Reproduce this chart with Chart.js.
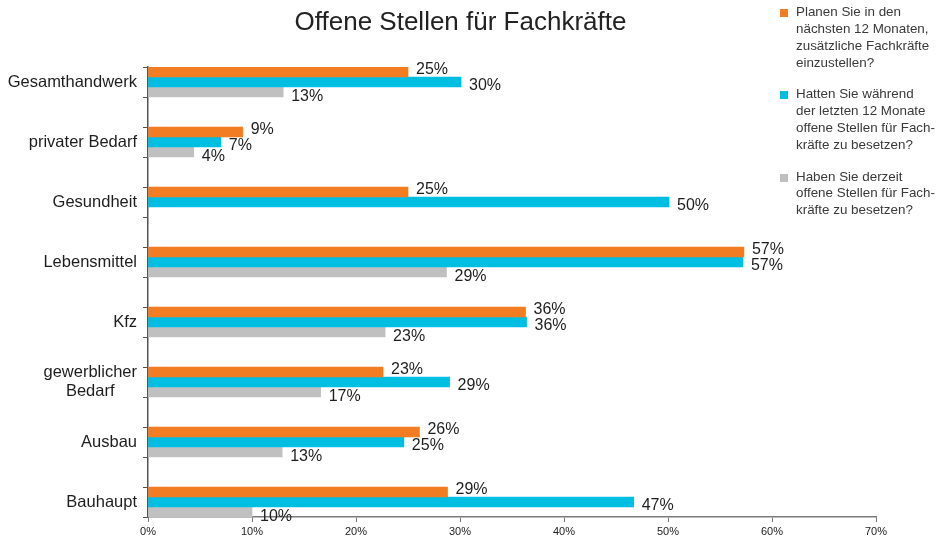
<!DOCTYPE html>
<html>
<head>
<meta charset="utf-8">
<script src="https://cdn.jsdelivr.net/npm/chart.js@4.4.1/dist/chart.umd.min.js"></script>
<style>
html,body{margin:0;padding:0;background:#fff;}
#wrap{position:relative;width:943px;height:537px;font-family:"Liberation Sans",Arial,sans-serif;overflow:hidden;}
#c{position:absolute;left:0;top:0;}
#title{position:absolute;left:0;width:921px;top:6px;text-align:center;font-size:26px;line-height:30px;color:#222;white-space:nowrap;}
.lg{position:absolute;left:780px;width:160px;}
.lg .sq{position:absolute;left:0;width:8px;height:8px;}
.lg .tx{position:absolute;left:16px;font-size:13.4px;line-height:16.8px;color:#3a3a3a;white-space:nowrap;}
</style>
</head>
<body>
<div id="wrap">
  <canvas id="c" width="943" height="537"></canvas>
  <div id="title"></div>
  <div id="legend"></div>
</div>
<script>
// ---- data ----
const chartTitle = 'Offene Stellen für Fachkräfte';
const categories = ['Gesamthandwerk', 'privater Bedarf', 'Gesundheit', 'Lebensmittel', 'Kfz', ['gewerblicher', 'Bedarf'], 'Ausbau', 'Bauhaupt'];
const planenValues  = [25.0, 9.1, 25.0, 57.3, 36.3, 22.6, 26.1, 28.8];
const hattenValues  = [30.1, 7.0, 50.1, 57.2, 36.4, 29.0, 24.6, 46.7];
const derzeitValues = [13.0, 4.4, null, 28.7, 22.8, 16.6, 12.9, 10.0];
const xTickValues = [0, 10, 20, 30, 40, 50, 60, 70];
const planenName  = ['Planen Sie in den', 'nächsten 12 Monaten,', 'zusätzliche Fachkräfte', 'einzustellen?'];
const hattenName  = ['Hatten Sie während', 'der letzten 12 Monate', 'offene Stellen für Fach-', 'kräfte zu besetzen?'];
const derzeitName = ['Haben Sie derzeit', 'offene Stellen für Fach-', 'kräfte zu besetzen?'];

// ---- styles ----
const seriesColors = ['#F17C22', '#00BEE1', '#C0C0C0'];
const labelShift = [-2, 4, 5];
const legendTops = [4.3, 86.3, 168.7];
const FONT = '"Liberation Sans", Arial, sans-serif';

document.getElementById('title').textContent = chartTitle;

const seriesNames = [planenName, hattenName, derzeitName];
const legendEl = document.getElementById('legend');
seriesNames.forEach((lines, k) => {
  const item = document.createElement('div');
  item.className = 'lg';
  item.style.top = legendTops[k] + 'px';
  const sq = document.createElement('span');
  sq.className = 'sq';
  sq.style.background = seriesColors[k];
  sq.style.top = '5px';
  item.appendChild(sq);
  const tx = document.createElement('div');
  tx.className = 'tx';
  lines.forEach((l, i) => {
    if (i) tx.appendChild(document.createElement('br'));
    tx.appendChild(document.createTextNode(l));
  });
  item.appendChild(tx);
  legendEl.appendChild(item);
});

const toPoints = vals => vals.map((v, i) => ({ x: v, y: i }));
const yTickValues = [];
categories.forEach((c, i) => { yTickValues.push(i - 0.25, i + 0.25); });

const valueLabels = {
  id: 'valueLabels',
  afterDatasetsDraw(chart) {
    const ctx = chart.ctx;
    ctx.save();
    ctx.font = '16px ' + FONT;
    ctx.fillStyle = '#1e1e1e';
    ctx.textAlign = 'left';
    ctx.textBaseline = 'middle';
    chart.data.datasets.forEach((ds, di) => {
      const meta = chart.getDatasetMeta(di);
      meta.data.forEach((el, i) => {
        const v = ds.data[i].x;
        if (v === null || v === undefined) return;
        ctx.fillText(Math.round(v) + '%', el.x + 8, el.y + labelShift[di]);
      });
    });
    ctx.restore();
  }
};

const categoryLabels = {
  id: 'categoryLabels',
  afterDraw(chart) {
    const ctx = chart.ctx;
    const ys = chart.scales.y;
    ctx.save();
    ctx.font = '16.5px ' + FONT;
    ctx.fillStyle = '#1e1e1e';
    ctx.textAlign = 'center';
    ctx.textBaseline = 'middle';
    categories.forEach((lab, i) => {
      const lines = Array.isArray(lab) ? lab : [lab];
      const yc = ys.getPixelForValue(i);
      const w = Math.max(...lines.map(l => ctx.measureText(l).width));
      const cx = ys.right - 11 - w / 2;
      lines.forEach((l, k) => {
        ctx.fillText(l, cx, yc + (k - (lines.length - 1) / 2) * 19);
      });
    });
    ctx.restore();
  }
};

new Chart(document.getElementById('c'), {
  type: 'bar',
  data: {
    datasets: [
      { label: planenName.join(' '),  data: toPoints(planenValues),  backgroundColor: seriesColors[0], barThickness: 10 },
      { label: hattenName.join(' '),  data: toPoints(hattenValues),  backgroundColor: seriesColors[1], barThickness: 10 },
      { label: derzeitName.join(' '), data: toPoints(derzeitValues), backgroundColor: seriesColors[2], barThickness: 10 }
    ]
  },
  options: {
    indexAxis: 'y',
    responsive: false,
    animation: false,
    layout: { padding: { top: 67, right: 67, left: 0, bottom: 0 } },
    plugins: { legend: { display: false }, title: { display: false }, tooltip: { enabled: false } },
    scales: {
      x: {
        type: 'linear', position: 'bottom', min: 0, max: 70, offset: false,
        afterBuildTicks: s => { s.ticks = xTickValues.map(v => ({ value: v })); },
        afterFit: s => { s.height = 20; },
        ticks: { callback: v => v + '%', font: { family: FONT, size: 11 }, color: '#222', padding: 3, maxRotation: 0, autoSkip: false },
        grid: { offset: false, drawOnChartArea: false, drawTicks: true, tickLength: 5, color: '#7a7a7a', lineWidth: 1 },
        border: { display: true, color: '#7a7a7a', width: 1.5 },
        z: 1
      },
      y: {
        type: 'linear', position: 'left', reverse: true, min: -0.25, max: 7.25, offset: false,
        afterBuildTicks: s => { s.ticks = yTickValues.map(v => ({ value: v })); },
        afterFit: s => { s.width = 148; },
        ticks: { display: false },
        grid: { offset: false, drawOnChartArea: false, drawTicks: true, tickLength: 5, color: '#555', lineWidth: 1 },
        border: { display: true, color: '#555', width: 1.5 },
        z: 1
      }
    }
  },
  plugins: [valueLabels, categoryLabels]
});
</script>
</body>
</html>
